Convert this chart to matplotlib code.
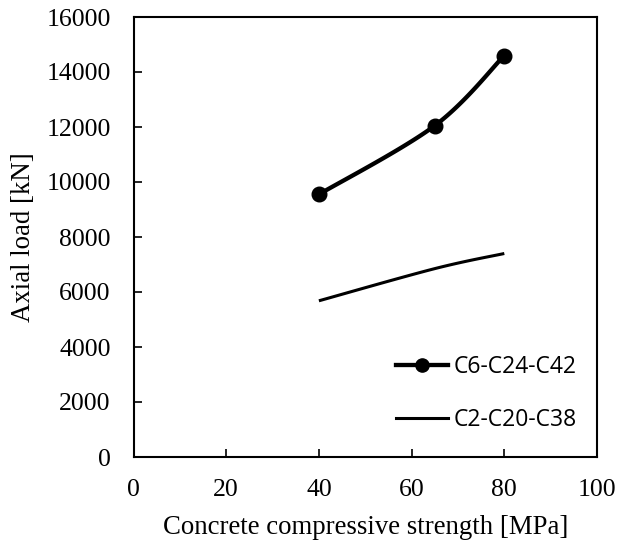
import numpy as np
import matplotlib
matplotlib.use("Agg")
import matplotlib.pyplot as plt

# Data
strength = [40, 65, 80]
series1_label = "C6-C24-C42"
series1_load = [9550, 12050, 14600]
series2_label = "C2-C20-C38"
series2_load = [5680, 6850, 7400]
xticks = [0, 20, 40, 60, 80, 100]
yticks = [0, 2000, 4000, 6000, 8000, 10000, 12000, 14000, 16000]

serif = ["Liberation Serif", "DejaVu Serif"]
legend_font = ["Open Sans", "DejaVu Sans"]

fig = plt.figure(figsize=(6.19, 5.44), dpi=100)
ax = fig.add_axes([133.5 / 619, 87 / 544, (597 - 133.5) / 619, (457 - 17) / 544])
ax.set_xlim(0, 100)
ax.set_ylim(0, 16000)


def smooth(ax, xs, ys, n=60):
    """Excel-like smoothed line: cubic Bezier with 1/6 tangent in display space."""
    pts = ax.transData.transform(np.column_stack([xs, ys]))
    out = []
    m = len(pts)
    for i in range(m - 1):
        p0 = pts[i - 1] if i > 0 else pts[i]
        p1 = pts[i]
        p2 = pts[i + 1]
        p3 = pts[i + 2] if i + 2 < m else pts[i + 1]
        c1 = p1 + (p2 - p0) / 6.0
        c2 = p2 - (p3 - p1) / 6.0
        t = np.linspace(0, 1, n)[:, None]
        seg = ((1 - t) ** 3) * p1 + 3 * ((1 - t) ** 2) * t * c1 + 3 * (1 - t) * t ** 2 * c2 + t ** 3 * p2
        out.append(seg if i == 0 else seg[1:])
    arr = np.vstack(out)
    d = ax.transData.inverted().transform(arr)
    return d[:, 0], d[:, 1]


sx, sy = smooth(ax, strength, series1_load)
ax.plot(sx, sy, color="black", lw=3.1, solid_capstyle="butt")
ax.plot(strength, series1_load, linestyle="none", marker="o", markersize=10.5, color="black")
sx2, sy2 = smooth(ax, strength, series2_load)
ax.plot(sx2, sy2, color="black", lw=2.2, solid_capstyle="butt")

# legend handles
h1, = ax.plot([], [], color="black", lw=3.1, marker="o", markersize=9.5, label=series1_label)
h2, = ax.plot([], [], color="black", lw=2.2, label=series2_label)
leg = ax.legend(handles=[h1, h2], loc="upper left", bbox_to_anchor=(0.546, 0.253),
                frameon=False, prop={"family": legend_font, "size": 16.5},
                handlelength=2.27, handletextpad=0.26, labelspacing=1.27, borderaxespad=0)

ax.set_xticks(xticks)
ax.set_yticks(yticks)
ax.set_xticklabels([str(v) for v in xticks], family=serif, fontsize=18.5)
ax.set_yticklabels([str(v) for v in yticks], family=serif, fontsize=18.5)
ax.tick_params(axis="both", direction="in", length=6, width=1.2, color="black")
ax.tick_params(axis="x", pad=15.5)
ax.tick_params(axis="y", pad=16.5)
ax.tick_params(top=False, right=False)
for s in ax.spines.values():
    s.set_linewidth(1.5)
    s.set_color("black")

ax.set_xlabel("Concrete compressive strength [MPa]", family=serif, fontsize=19.3)
ax.set_ylabel("Axial load [kN]", family=serif, fontsize=19.3)
ax.xaxis.set_label_coords(0.5, -(528 - 457) / 440)
ax.yaxis.set_label_coords(-(133.5 - 24) / 463.5, 0.5)
ax.xaxis.label.set_va("center")
ax.yaxis.label.set_va("center")

fig.savefig("out.png", dpi=100)
